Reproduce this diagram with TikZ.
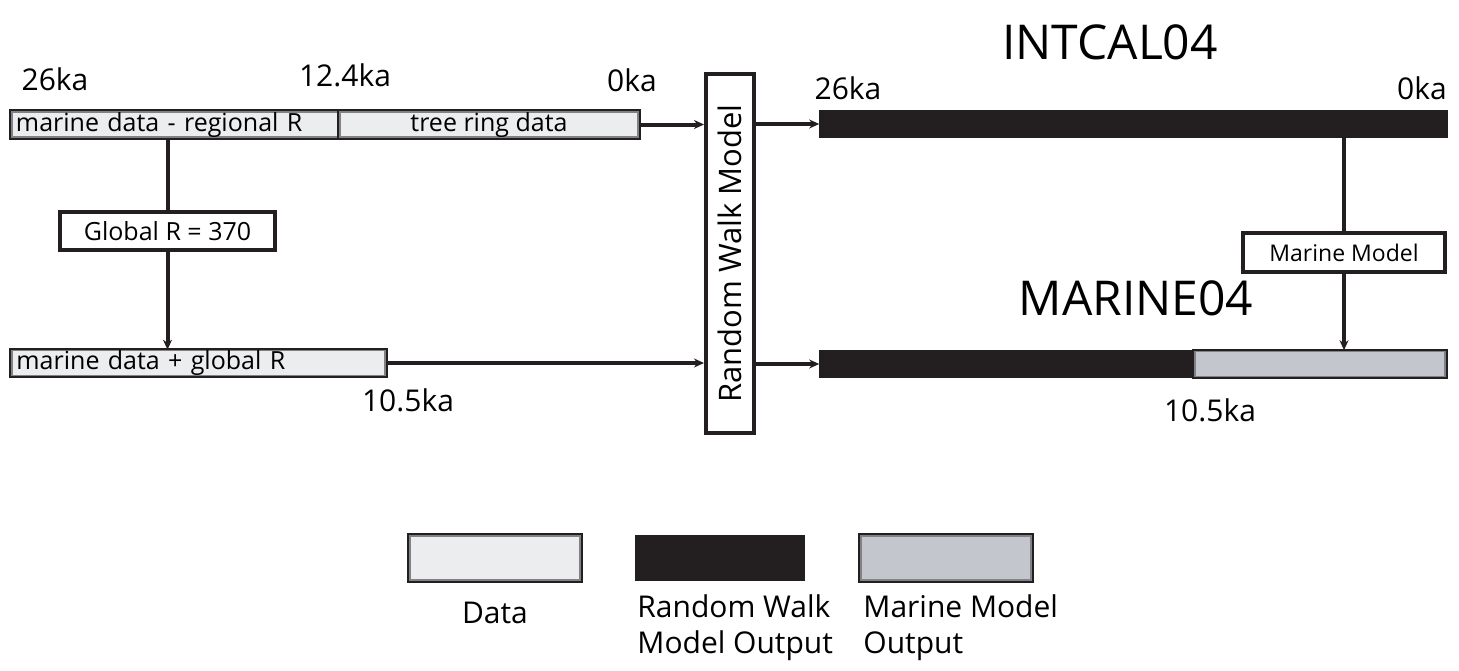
\documentclass[tikz,border=0pt]{standalone}
\usepackage{fontspec}
\setmainfont{Open Sans}
\usepackage{tikz}
\usetikzlibrary{arrows.meta, positioning, calc}
\definecolor{datafill}{HTML}{ECEDEF}
\definecolor{dataline}{HTML}{808285}
\definecolor{runblack}{HTML}{231F20}
\definecolor{modelfill}{HTML}{C3C6CD}
\tikzstyle{databar} = [rectangle, inner sep=0pt, minimum height=12.5pt, fill=datafill, draw=dataline, line width=0.8pt, preaction={draw=runblack, line width=2.6pt}, font=\fontsize{12.5}{14}\selectfont]
\tikzstyle{modelbar} = [databar, fill=modelfill]
\tikzstyle{runbar} = [rectangle, inner sep=0pt, minimum height=13pt, fill=runblack, draw=runblack, line width=0.8pt]
\tikzstyle{procbox} = [rectangle, inner sep=0pt, draw=runblack, fill=white, line width=2pt, align=center]
\tikzstyle{link} = [draw=runblack, line width=2pt]
\tikzstyle{arrow} = [link, -{Stealth[length=5pt, width=4.5pt]}]
\tikzstyle{age} = [inner sep=0pt, font=\fontsize{15}{18}\selectfont]
\tikzstyle{title} = [inner sep=0pt, font=\fontsize{24}{28}\selectfont]

\begin{document}
\begin{tikzpicture}[x=0.5pt, y=-0.5pt]
  \useasboundingbox (0,0) rectangle (1459,670);

  % left side: input data
  \node[databar, minimum width=164pt, text width=160pt, align=left] (regional) at (176,124.5) {marine data - regional R};
  \node[databar, minimum width=149pt] (tree) at (489,124.5) {tree ring data};
  \node[databar, minimum width=186.5pt, text width=182pt, align=left] (globaldata) at (198.5,363) {marine data + global R};
  \node[procbox, minimum width=107.5pt, minimum height=19pt, font=\fontsize{12.5}{14}\selectfont] (global) at (167.5,231) {Global R = 370};

  \node[age] (a26) at (55,79) {26ka};
  \node[age] (a124) at (345,75) {12.4ka};
  \node[age] (a0) at (632,80) {0ka};
  \node[age] (a105) at (408,400) {10.5ka};

  % the model in the middle
  \node[procbox, minimum width=24pt, minimum height=179.5pt] (rwm) at (730,253.5) {};
  \node[rotate=90, inner sep=0pt, font=\fontsize{15.5}{18}\selectfont] (rwmtext) at (rwm) {Random Walk Model};

  % right side: outputs
  \node[runbar, minimum width=313.5pt] (intcal) at (1133.5,124) {};
  \node[runbar, minimum width=313.5pt] (marine) at (1133.5,364) {};
  \node[modelbar, minimum width=125pt] (marinepart) at (1320,364) {};
  \node[procbox, minimum width=101pt, minimum height=19.5pt, font=\fontsize{11.5}{13}\selectfont] (mm) at (1344,252.5) {Marine Model};

  \node[title] (intcaltitle) at (1110,42) {INTCAL04};
  \node[title] (marinetitle) at (1136,298) {MARINE04};
  \node[age] (b26) at (848,88) {26ka};
  \node[age] (b0) at (1422,88) {0ka};
  \node[age] (b105) at (1210,410) {10.5ka};

  % connectors
  \draw[link] (regional.south -| global.north) -- (global.north);
  \draw[arrow] (global.south) -- (global.south |- globaldata.north);
  \draw[arrow] (tree.east) -- (rwm.west |- tree.east);
  \draw[arrow] (globaldata.east) -- (rwm.west |- globaldata.east);
  \draw[arrow] (rwm.east |- intcal.west) -- (intcal.west);
  \draw[arrow] (rwm.east |- marine.west) -- (marine.west);
  \draw[link] (intcal.south -| mm.north) -- (mm.north);
  \draw[arrow] (mm.south) -- (mm.south |- marine.north);

  % legend
  \node[databar, minimum width=85pt, minimum height=22pt] (keydata) at (495,558) {};
  \node[runbar, minimum width=84pt, minimum height=22pt] (keyrun) at (720,558) {};
  \node[modelbar, minimum width=85pt, minimum height=22pt] (keymodel) at (946,558) {};
  \node[age] (keydatatext) at (495,613) {Data};
  \node[age, anchor=north west, align=left] (keyruntext) at (637,594) {Random Walk\\Model Output};
  \node[age, anchor=north west, align=left] (keymodeltext) at (863,594) {Marine Model\\Output};
\end{tikzpicture}
\end{document}
